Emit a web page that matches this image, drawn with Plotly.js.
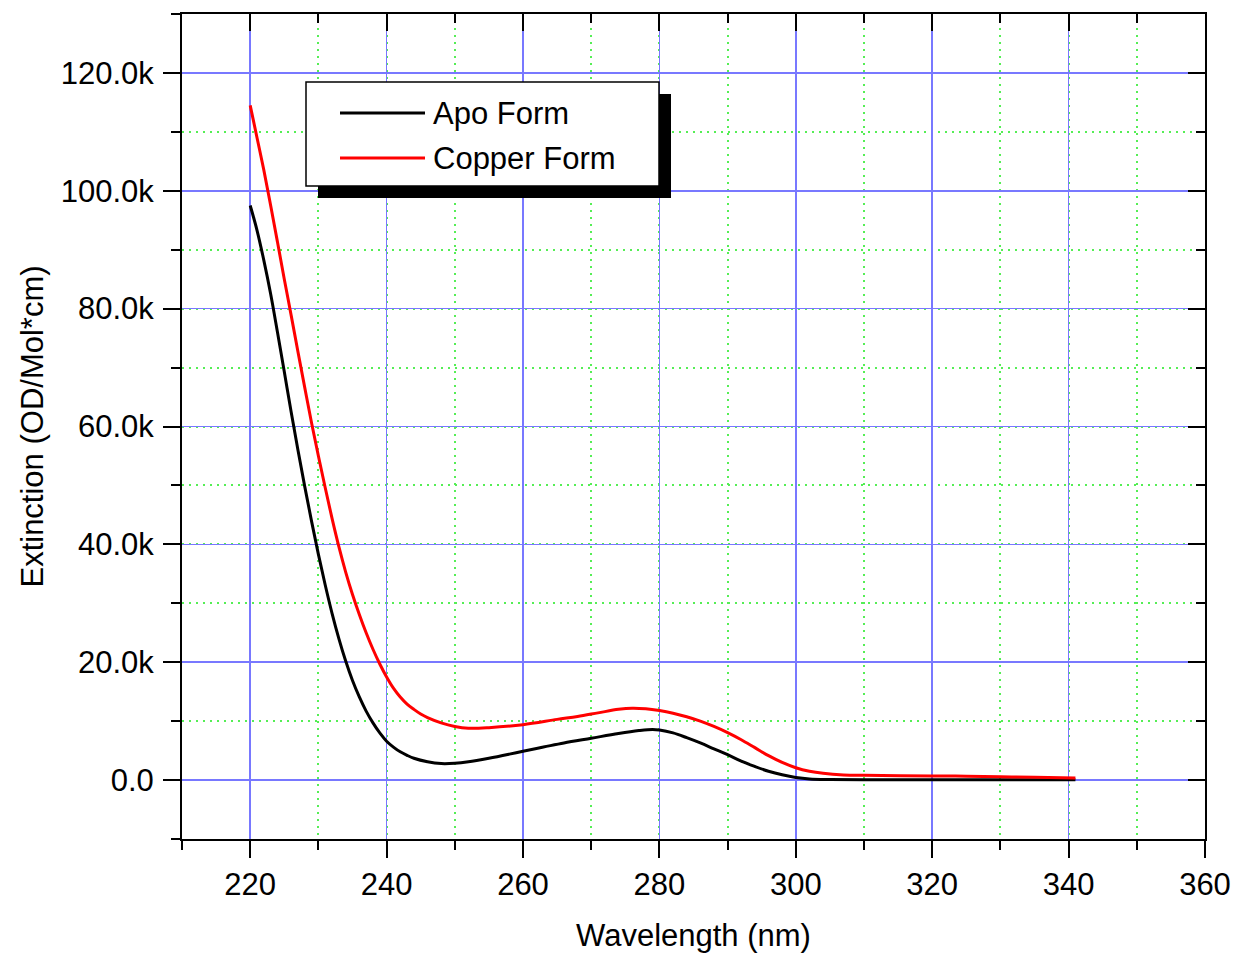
<!DOCTYPE html>
<html>
<head>
<meta charset="utf-8">
<script src="https://cdn.plot.ly/plotly-3.0.1.min.js"></script>
<style>html,body{margin:0;padding:0;background:#fff;}#chart{width:1239px;height:953px;}</style>
</head>
<body>
<div id="chart"></div>
<script>
// Apo form (black)
const apoWavelength = [220,221,222,223,224,225,226,227,228,229,230,231,232,233,234,235,236,237,238,239,240,241,242,243,244,246,248,250,252,255,258,260,263,266,270,274,277,279,280,282,284,286,288,290,292,294,296,298,300,302,305,310,320,330,341];
const apoExtinction = [97500,93300,88200,82500,76000,69300,62500,56000,49800,43900,38300,33100,28300,24000,20200,16900,14100,11700,9700,8000,6600,5600,4800,4200,3700,3100,2800,2850,3100,3700,4400,4900,5600,6300,7100,7900,8400,8600,8500,8000,7200,6300,5300,4300,3200,2300,1500,900,450,200,100,50,50,50,50];
// Copper form (red)
const cuWavelength = [220,221,222,223,224,225,226,227,228,229,230,231,232,233,234,235,236,237,238,239,240,241,242,243,244,245,246,248,250,252,255,260,265,268,271,274,276,278,280,282,284,286,288,290,292,294,296,298,300,302,304,307,310,320,325,330,335,341];
const cuExtinction = [114500,109000,103500,97500,91300,85000,78900,72700,66600,60600,55000,49600,44400,39600,35300,31500,28100,25000,22200,19700,17500,15600,14100,12900,12000,11200,10600,9700,9100,8800,8900,9400,10300,10800,11400,12000,12200,12100,11800,11350,10750,10000,9100,8050,6850,5500,4150,3000,2100,1500,1150,880,800,700,650,550,500,350];
const seriesNames = ['Apo Form','Copper Form'];
const seriesColors = ['#000000','#ff0000'];
const xTickVals = [220,240,260,280,300,320,340,360];
const yTickVals = [0,20000,40000,60000,80000,100000,120000];
const yTickText = ['0.0','20.0k','40.0k','60.0k','80.0k','100.0k','120.0k'];

const FONT = 'Arial, "Liberation Sans", sans-serif';
const FS = 31;
const blue = '#7878ff', green = '#55ee55';

const traces = [
  {x: apoWavelength, y: apoExtinction, name: seriesNames[0], mode: 'lines', line: {color: seriesColors[0], width: 3, shape: 'spline', smoothing: 1}},
  {x: cuWavelength, y: cuExtinction, name: seriesNames[1], mode: 'lines', line: {color: seriesColors[1], width: 3, shape: 'spline', smoothing: 1}},
  {x: [], y: [], xaxis: 'x2', yaxis: 'y2', showlegend: false, hoverinfo: 'skip'}
];

const common = {showline: true, linecolor: '#000', linewidth: 2, tickcolor: '#000', tickwidth: 2, ticklen: 17, zeroline: false};

// plot-area pixel -> paper helpers for the legend box
const L = 182, R = 1205, T = 14, B = 839;
const px = v => (v - L) / (R - L);
const py = v => (B - v) / (B - T);

const layout = {
  width: 1239, height: 953,
  margin: {l: L, r: 1239 - R, t: T, b: 953 - B},
  paper_bgcolor: '#fff', plot_bgcolor: '#fff',
  font: {family: FONT, size: FS, color: '#000'},
  showlegend: false,
  xaxis: Object.assign({}, common, {
    range: [210, 360], tickvals: xTickVals, ticks: 'outside',
    showgrid: true, gridcolor: blue, gridwidth: 1.5,
    minor: {dtick: 10, tick0: 210, ticks: 'outside', ticklen: 9, tickwidth: 2, tickcolor: '#000', showgrid: true, gridcolor: green, griddash: '2px,5px', gridwidth: 2},
    title: {text: 'Wavelength (nm)', font: {size: FS}, standoff: 26},
    tickfont: {size: FS}
  }),
  yaxis: Object.assign({}, common, {
    range: [-10000, 130000], tickvals: yTickVals, ticktext: yTickText, ticks: 'outside', ticklabelstandoff: 3,
    showgrid: true, gridcolor: blue, gridwidth: 1.5,
    minor: {dtick: 10000, tick0: 0, ticks: 'outside', ticklen: 9, tickwidth: 2, tickcolor: '#000', showgrid: true, gridcolor: green, griddash: '2px,5px', gridwidth: 2},
    title: {text: 'Extinction (OD/Mol*cm)', font: {size: FS}, standoff: 8},
    tickfont: {size: FS}
  }),
  xaxis2: Object.assign({}, common, {
    overlaying: 'x', side: 'top', anchor: 'y2', matches: 'x', range: [210, 360], tickvals: xTickVals, ticks: 'inside', showticklabels: false, showgrid: false,
    minor: {dtick: 10, tick0: 210, ticks: 'inside', ticklen: 9, tickwidth: 2, tickcolor: '#000', showgrid: false}
  }),
  yaxis2: Object.assign({}, common, {
    overlaying: 'y', side: 'right', anchor: 'x2', matches: 'y', range: [-10000, 130000], tickvals: yTickVals, ticks: 'inside', showticklabels: false, showgrid: false,
    minor: {dtick: 10000, tick0: 0, ticks: 'inside', ticklen: 9, tickwidth: 2, tickcolor: '#000', showgrid: false}
  }),
  shapes: [
    // legend shadow and frame
    {type: 'rect', xref: 'paper', yref: 'paper', x0: px(318), x1: px(671), y0: py(198), y1: py(94), fillcolor: '#000', line: {width: 0}, layer: 'above'},
    {type: 'rect', xref: 'paper', yref: 'paper', x0: px(306), x1: px(659), y0: py(186), y1: py(82), fillcolor: '#fff', line: {color: '#000', width: 1.5}, layer: 'above'},
    // legend line samples
    {type: 'line', xref: 'paper', yref: 'paper', x0: px(340), x1: px(425), y0: py(113), y1: py(113), line: {color: seriesColors[0], width: 3}, layer: 'above'},
    {type: 'line', xref: 'paper', yref: 'paper', x0: px(340), x1: px(425), y0: py(158), y1: py(158), line: {color: seriesColors[1], width: 3}, layer: 'above'}
  ],
  annotations: [
    {xref: 'paper', yref: 'paper', x: px(431), y: py(113), xanchor: 'left', yanchor: 'middle', text: seriesNames[0], showarrow: false, font: {size: FS, color: '#000'}},
    {xref: 'paper', yref: 'paper', x: px(431), y: py(158), xanchor: 'left', yanchor: 'middle', text: seriesNames[1], showarrow: false, font: {size: FS, color: '#000'}}
  ]
};

Plotly.newPlot('chart', traces, layout, {displayModeBar: false, staticPlot: true});
</script>
</body>
</html>
